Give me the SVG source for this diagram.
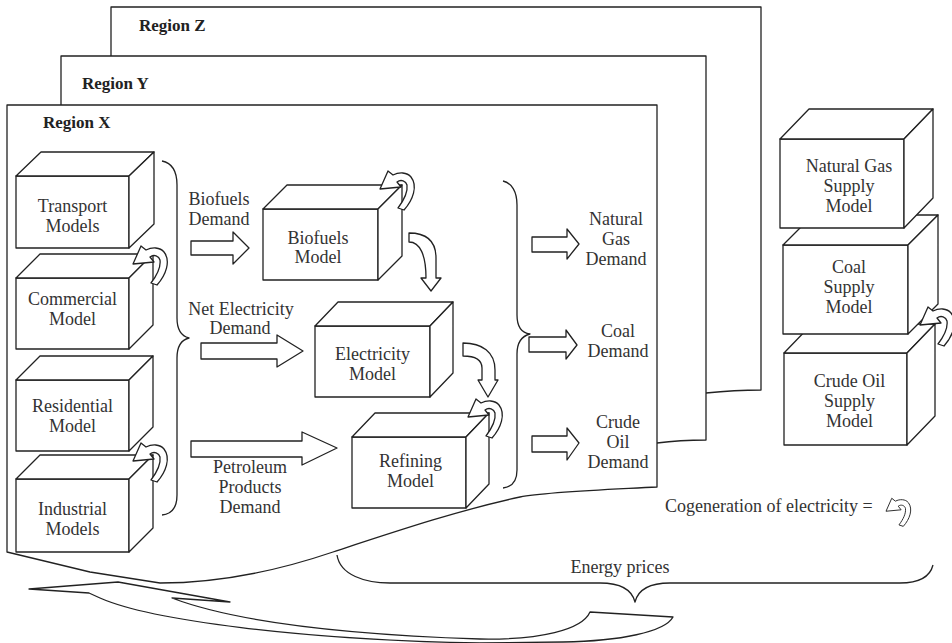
<svg xmlns="http://www.w3.org/2000/svg" xmlns:xlink="http://www.w3.org/1999/xlink" width="952" height="643" viewBox="0 0 952 643">
<style>
.ln{fill:none;stroke:#222;stroke-width:1.3;stroke-linejoin:round}
.sh{fill:#fff;stroke:#222;stroke-width:1.3;stroke-linejoin:round}
.t{font-family:"Liberation Serif","Times New Roman",serif;font-size:18px;fill:#333;text-anchor:middle}
.tl{font-family:"Liberation Serif","Times New Roman",serif;font-size:18px;fill:#333}
.rg{font-family:"Liberation Serif","Times New Roman",serif;font-size:17px;font-weight:bold;fill:#222}
</style>
<defs>
<path id="loop" d="M18,36 L24,38 C33,28 38,14 31,5 C27,0 19,0 13,3 L8,-1 L0,17 L21,15 L17,10 C21,7 26,9 27,13 C28,20 24,28 18,36 Z"/>
</defs>
<rect width="952" height="643" fill="#fff"/>

<g id="regionZ">
<path class="ln" d="M111,56 V7 H761 V390 Q735,390 706,393"/>
<text class="rg" x="139" y="31">Region Z</text>
</g>
<g id="regionY">
<path class="ln" d="M61,105 V56 H706 V440 Q680,440 657,443"/>
<text class="rg" x="82" y="89">Region Y</text>
</g>
<g id="regionX">
<path class="sh" d="M7,552 L7,105 L657,105 L657,487 C600,490 545,492 520,497 C460,510 400,530 333,552 C280,570 220,583 160,583 L90,572 Z"/>
<text class="rg" x="43" y="128">Region X</text>
</g>

<g id="connectors">
<path class="ln" d="M162,161 C172,163 177,172 177,185 L177,318 C177,330 181,336 189,338 C181,340 177,346 177,358 L177,495 C177,508 172,514 162,515"/>
<path class="ln" d="M503,181 C512,183 517,192 517,205 L517,315 C517,327 522,333 530,334 C522,336 517,342 517,354 L517,470 C517,482 512,487 503,488"/>
<path class="sh" d="M191,241 H233 V232 L249,248 L233,264 V255 H191 Z"/>
<path class="sh" d="M201,343 H277 V335 L303,351 L277,367 V359 H201 Z"/>
<path class="sh" d="M191,441 H302 V432 L337,448 L302,465 V457 H191 Z"/>
<path class="sh" d="M532,237 H567 V229 L579,244 L567,259 V252 H532 Z"/>
<path class="sh" d="M529,337 H566 V330 L577,345 L566,359 V352 H529 Z"/>
<path class="sh" d="M532,436 H567 V428 L579,443 L567,460 V452 H532 Z"/>
<path class="sh" d="M409,233 C425,233 436,240 436,258 L436,278 L441,278 L431,291 L421,278 L426,278 C426,255 420,242 409,242 Z"/>
<path class="sh" d="M463,343 C482,343 495,352 495,370 L495,380 L498,380 L488,397 L478,380 L482,380 L482,368 C482,360 475,356 463,356 Z"/>
<path class="ln" d="M337,555 C340,575 365,583 390,583 L600,583 C620,583 632,590 635,602 C638,590 650,583 670,583 L900,583 C920,583 930,577 933,565"/>
<path class="sh" d="M29,589 L118,582 L230,602 L172,598 C230,620 330,634 480,639 C540,640 582,630 590,612 L673,617 C665,632 620,641 563,642 L480,643 C300,640 150,620 100,598 L89,593 Z"/>
</g>

<g id="transport">
<rect class="sh" x="16" y="176" width="113" height="72"/>
<path class="sh" d="M16,176 L41,152 L154,152 L129,176 Z"/>
<path class="sh" d="M129,176 L154,152 L154,224 L129,248 Z"/>
<text class="t" x="72.5" y="212">Transport</text>
<text class="t" x="72.5" y="232">Models</text>
</g>
<g id="commercial">
<rect class="sh" x="16" y="278" width="113" height="71"/>
<path class="sh" d="M16,278 L40,254 L153,254 L129,278 Z"/>
<path class="sh" d="M129,278 L153,254 L153,325 L129,349 Z"/>
<text class="t" x="72.5" y="305">Commercial</text>
<text class="t" x="72.5" y="325">Model</text>
</g>
<g id="residential">
<rect class="sh" x="16" y="380" width="113" height="71"/>
<path class="sh" d="M16,380 L40,356 L153,356 L129,380 Z"/>
<path class="sh" d="M129,380 L153,356 L153,427 L129,451 Z"/>
<text class="t" x="72.5" y="412">Residential</text>
<text class="t" x="72.5" y="432">Model</text>
</g>
<g id="industrial">
<rect class="sh" x="16" y="479" width="113" height="73"/>
<path class="sh" d="M16,479 L40,455 L153,455 L129,479 Z"/>
<path class="sh" d="M129,479 L153,455 L153,528 L129,552 Z"/>
<text class="t" x="72.5" y="515">Industrial</text>
<text class="t" x="72.5" y="535">Models</text>
</g>
<g id="biofuels">
<rect class="sh" x="263" y="209" width="115" height="71"/>
<path class="sh" d="M263,209 L287,185 L402,185 L378,209 Z"/>
<path class="sh" d="M378,209 L402,185 L402,256 L378,280 Z"/>
<text class="t" x="318" y="244">Biofuels</text>
<text class="t" x="318" y="263">Model</text>
</g>
<g id="electricity">
<rect class="sh" x="315" y="326" width="115" height="71"/>
<path class="sh" d="M315,326 L338,302 L453,302 L430,326 Z"/>
<path class="sh" d="M430,326 L453,302 L453,373 L430,397 Z"/>
<text class="t" x="372.5" y="360">Electricity</text>
<text class="t" x="372.5" y="380">Model</text>
</g>
<g id="refining">
<rect class="sh" x="352" y="437" width="114" height="71"/>
<path class="sh" d="M352,437 L375,413 L489,413 L466,437 Z"/>
<path class="sh" d="M466,437 L489,413 L489,484 L466,508 Z"/>
<text class="t" x="410.5" y="467">Refining</text>
<text class="t" x="410.5" y="487">Model</text>
</g>

<g id="crudeSupply">
<rect class="sh" x="784" y="353" width="123" height="92"/>
<path class="sh" d="M784,353 L812,324 L935,324 L907,353 Z"/>
<path class="sh" d="M907,353 L935,324 L935,416 L907,445 Z"/>
<text class="t" x="849.5" y="387">Crude Oil</text>
<text class="t" x="849.5" y="407">Supply</text>
<text class="t" x="849.5" y="427">Model</text>
</g>
<g id="coalSupply">
<rect class="sh" x="783" y="245" width="125" height="89"/>
<path class="sh" d="M783,245 L813,215 L938,215 L908,245 Z"/>
<path class="sh" d="M908,245 L938,215 L938,304 L908,334 Z"/>
<text class="t" x="849" y="273">Coal</text>
<text class="t" x="849" y="293">Supply</text>
<text class="t" x="849" y="313">Model</text>
</g>
<g id="natgasSupply">
<rect class="sh" x="780" y="139" width="124" height="89"/>
<path class="sh" d="M780,139 L809,109 L933,109 L904,139 Z"/>
<path class="sh" d="M904,139 L933,109 L933,198 L904,228 Z"/>
<text class="t" x="849" y="172">Natural Gas</text>
<text class="t" x="849" y="192">Supply</text>
<text class="t" x="849" y="212">Model</text>
</g>

<g id="loops">
<use xlink:href="#loop" class="sh" transform="translate(380,172)"/>
<use xlink:href="#loop" class="sh" transform="translate(133,247)"/>
<use xlink:href="#loop" class="sh" transform="translate(133,444)"/>
<use xlink:href="#loop" class="sh" transform="translate(468,400)"/>
<use xlink:href="#loop" class="sh" transform="translate(920,308)"/>
</g>

<g id="labels">
<text class="t" x="219" y="205">Biofuels</text>
<text class="t" x="219" y="225">Demand</text>
<text class="t" x="241" y="315">Net Electricity</text>
<text class="t" x="240" y="334">Demand</text>
<text class="t" x="250" y="473">Petroleum</text>
<text class="t" x="250" y="493">Products</text>
<text class="t" x="250" y="513">Demand</text>
<text class="t" x="616" y="225">Natural</text>
<text class="t" x="616" y="245">Gas</text>
<text class="t" x="616" y="265">Demand</text>
<text class="t" x="618" y="337">Coal</text>
<text class="t" x="618" y="357">Demand</text>
<text class="t" x="618" y="428">Crude</text>
<text class="t" x="618" y="448">Oil</text>
<text class="t" x="618" y="468">Demand</text>
<text class="t" x="620" y="573">Energy prices</text>
</g>

<g id="legend">
<text class="tl" x="665" y="512">Cogeneration of electricity =</text>
<use xlink:href="#loop" class="sh" transform="translate(886,499) scale(0.72)"/>
</g>
</svg>
